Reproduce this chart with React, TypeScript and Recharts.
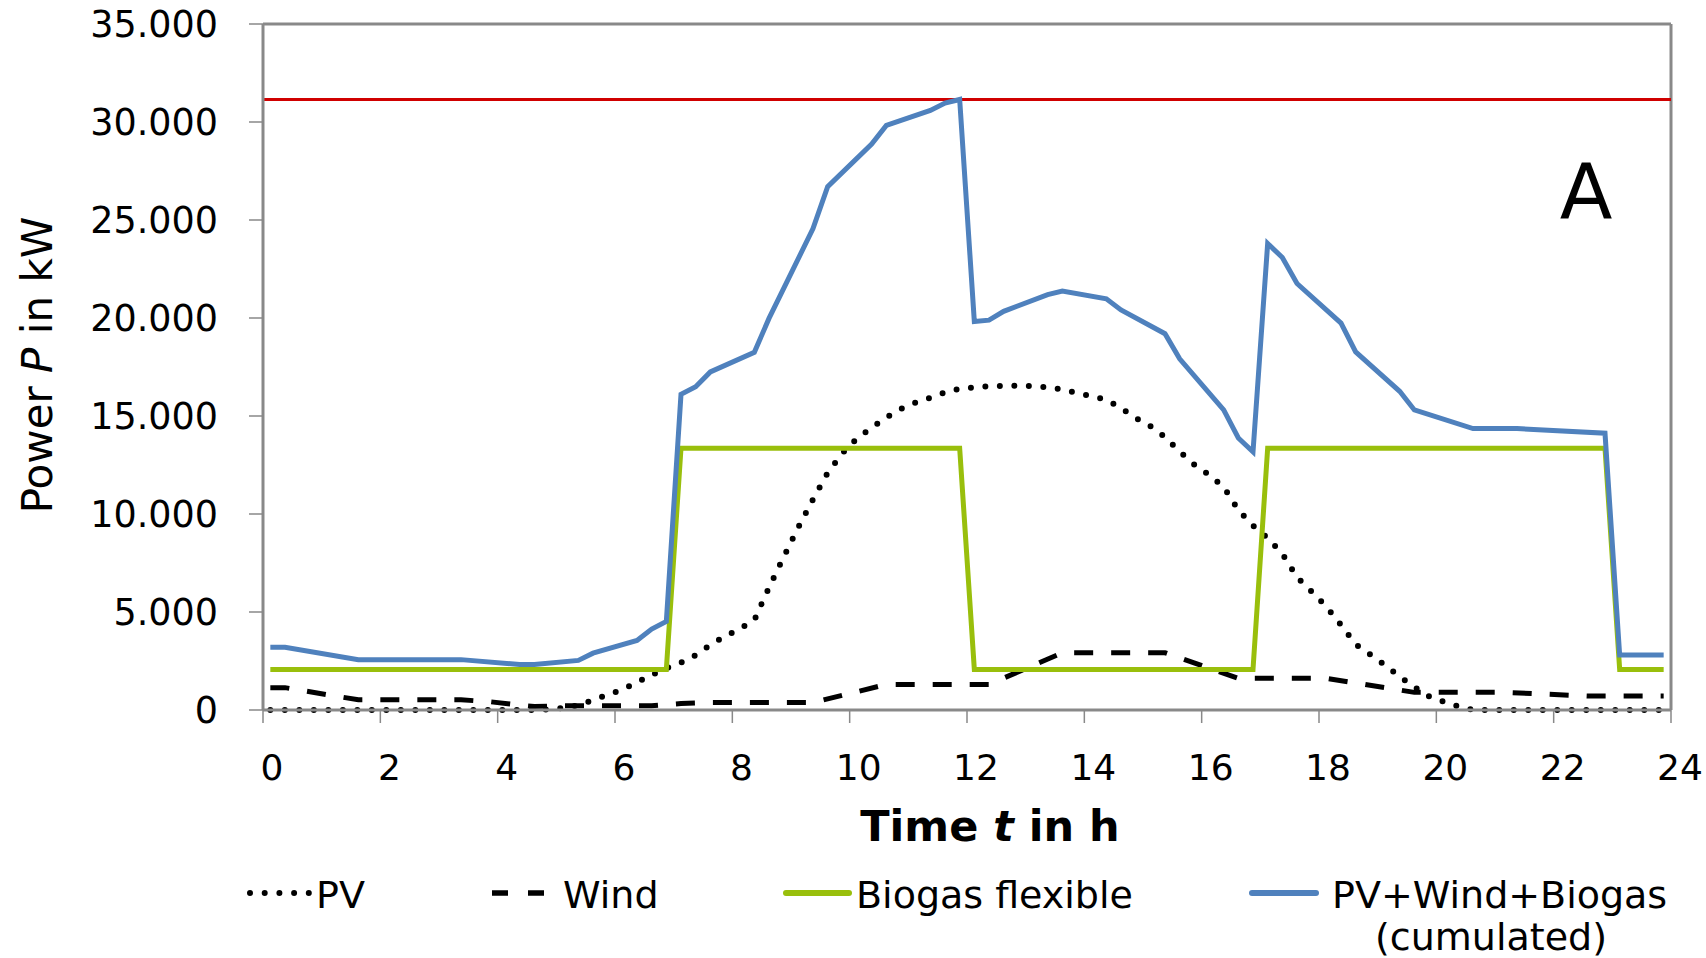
import { LineChart, Line, XAxis, YAxis, ReferenceLine, Legend } from 'recharts'

const FONT = '"DejaVu Sans", Verdana, sans-serif'
const AXIS_GREY = '#898989'

const pvHours = [
  0.125, 4.625, 4.875, 5.125, 5.375, 5.625, 5.875, 6.125, 6.375, 6.625, 6.875, 7.125, 7.375,
  7.625, 7.875, 8.125, 8.375, 8.625, 8.875, 9.125, 9.375, 9.625, 9.875, 10.125, 10.375, 10.625,
  10.875, 11.125, 11.375, 11.625, 11.875, 12.125, 12.375, 12.625, 12.875, 13.125, 13.375, 13.625,
  13.875, 14.125, 14.375, 14.625, 14.875, 15.125, 15.375, 15.625, 15.875, 16.125, 16.375, 16.625,
  16.875, 17.125, 17.375, 17.625, 17.875, 18.125, 18.375, 18.625, 18.875, 19.125, 19.375, 19.625,
  19.875, 20.125, 20.375, 20.625, 23.875,
]
const pvKw = [
  0, 0, 40, 110, 230, 515, 770, 1040, 1410, 1790, 2130, 2420, 2800,
  3320, 3760, 4140, 4580, 6250, 7800, 9320, 10750, 12100, 13100, 13850, 14400, 14930,
  15370, 15690, 15930, 16200, 16390, 16460, 16520, 16540, 16540, 16520, 16470, 16350,
  16180, 16010, 15830, 15400, 14900, 14480, 13930, 13180, 12520, 12000, 11380, 10200,
  9400, 8780, 7970, 6770, 6040, 5270, 4340, 3350, 2830, 2290, 1710, 1170,
  700, 420, 180, 0, 0,
]

const windHours = [
  0.125, 0.375, 1.625, 3.375, 3.875, 4.375, 4.625, 5.125, 6.625, 7.125, 7.625, 9.375, 10.625,
  12.375, 13.625, 15.375, 16.625, 18.125, 19.625, 21.125, 22.625, 23.875,
]
const windKw = [
  1140, 1140, 520, 520, 420, 250, 180, 220, 220, 330, 380, 380, 1305,
  1305, 2920, 2920, 1614, 1614, 900, 900, 712, 712,
]

const biogasHours = [0.125, 6.875, 7.125, 11.875, 12.125, 16.875, 17.125, 22.875, 23.125, 23.875]
const biogasKw = [2070, 2070, 13360, 13360, 2070, 2070, 13360, 13360, 2070, 2070]

const totalHours = [
  0.125, 0.375, 1.625, 3.375, 4.375, 4.625, 5.375, 5.625, 6.375, 6.625, 6.875, 7.125, 7.375,
  7.625, 8.375, 8.625, 9.375, 9.625, 10.375, 10.625, 11.375, 11.625, 11.875, 12.125, 12.375,
  12.625, 13.375, 13.625, 14.375, 14.625, 15.375, 15.625, 16.375, 16.625, 16.875, 17.125,
  17.375, 17.625, 18.375, 18.625, 19.375, 19.625, 20.625, 21.375, 22.875, 23.125, 23.875,
]
const totalKw = [
  3200, 3200, 2570, 2570, 2320, 2320, 2530, 2900, 3550, 4130, 4520, 16110, 16490,
  17250, 18250, 19980, 24560, 26700, 28880, 29830, 30590, 30970, 31150, 19820, 19890,
  20340, 21190, 21380, 20980, 20410, 19200, 17920, 15310, 13880, 13170, 23800,
  23090, 21760, 19740, 18270, 16260, 15310, 14360, 14360, 14120, 2800, 2800,
]

const gridLimitKw = 31150
const timeTicks = [0, 2, 4, 6, 8, 10, 12, 14, 16, 18, 20, 22, 24]
const powerTicks = [0, 5000, 10000, 15000, 20000, 25000, 30000, 35000]

const toSeries = (hours: number[], kw: number[]) => hours.map((t, i) => ({ t, kw: kw[i] }))

// German style thousands: 35000 -> 35.000
const formatKw = (v: number) => String(v).replace(/\B(?=(\d{3})+(?!\d))/g, '.')

const TimeTick = ({ x, y, payload }: any) => (
  <text x={x + 9} y={y} dy={27} textAnchor="middle" fontSize={36} fontFamily={FONT} fill="#000">
    {payload.value}
  </text>
)

const PowerTick = ({ x, y, payload }: any) => (
  <text x={x} y={y} dy={13} textAnchor="end" fontSize={36.5} fontFamily={FONT} fill="#000">
    {formatKw(payload.value)}
  </text>
)

const TimeTitle = ({ viewBox }: any) => (
  <text
    x={viewBox.x + viewBox.width / 2 + 23}
    y={viewBox.y + 131}
    textAnchor="middle"
    fontSize={43}
    fontWeight="bold"
    fontFamily={FONT}
    fill="#000"
  >
    Time <tspan fontStyle="italic">t</tspan> in h
  </text>
)

const PowerTitle = ({ viewBox }: any) => {
  const cx = 52
  const cy = viewBox.y + viewBox.height / 2 - 2
  return (
    <text
      x={cx}
      y={cy}
      transform={`rotate(-90 ${cx} ${cy})`}
      textAnchor="middle"
      fontSize={42}
      fontFamily={FONT}
      fill="#000"
    >
      Power <tspan fontStyle="italic">P</tspan> in kW
    </text>
  )
}

const ChartLegend = () => (
  <svg width={1706} height={100} style={{ display: 'block' }}>
    <g fontFamily={FONT} fontSize={38} fill="#000">
      <line x1={250} x2={309} y1={35} y2={35} stroke="#000" strokeWidth={6} strokeDasharray="0 14.7" strokeLinecap="round" />
      <text x={316} y={50}>PV</text>
      <line x1={492} x2={548} y1={35} y2={35} stroke="#000" strokeWidth={5.5} strokeDasharray="16 20" />
      <text x={563} y={50}>Wind</text>
      <line x1={786} x2={849} y1={35} y2={35} stroke="#99bf0c" strokeWidth={6} strokeLinecap="round" />
      <text x={856} y={50}>Biogas flexible</text>
      <line x1={1252} x2={1316} y1={35} y2={35} stroke="#4f81bd" strokeWidth={6} strokeLinecap="round" />
      <text x={1332} y={50}>PV+Wind+Biogas</text>
      <text x={1491} y={92} textAnchor="middle">(cumulated)</text>
    </g>
  </svg>
)

export default function App() {
  return (
    <div style={{ position: 'absolute', left: 0, top: 0, width: 1706, height: 958, background: '#fff' }}>
      <LineChart width={1706} height={958} margin={{ top: 24, right: 35, bottom: 0, left: 0 }}>
        <XAxis
          type="number"
          dataKey="t"
          domain={[0, 24]}
          ticks={timeTicks}
          interval={0}
          height={148}
          tick={<TimeTick />}
          tickSize={13}
          tickMargin={30}
          axisLine={{ stroke: AXIS_GREY, strokeWidth: 3 }}
          tickLine={{ stroke: AXIS_GREY, strokeWidth: 1.5 }}
          label={<TimeTitle />}
        />
        <YAxis
          type="number"
          domain={[0, 35000]}
          ticks={powerTicks}
          interval={0}
          width={263}
          tick={<PowerTick />}
          tickSize={14}
          tickMargin={31}
          axisLine={{ stroke: AXIS_GREY, strokeWidth: 3 }}
          tickLine={{ stroke: AXIS_GREY, strokeWidth: 1.5 }}
          label={<PowerTitle />}
        />
        <ReferenceLine y={35000} stroke={AXIS_GREY} strokeWidth={3} />
        <ReferenceLine x={24} stroke={AXIS_GREY} strokeWidth={3} />
        <ReferenceLine y={gridLimitKw} stroke="#d00000" strokeWidth={3} />
        <Line
          data={toSeries(pvHours, pvKw)}
          dataKey="kw"
          name="PV"
          type="linear"
          stroke="#000"
          strokeWidth={6}
          strokeDasharray="0 14.5"
          strokeLinecap="round"
          dot={false}
          activeDot={false}
          isAnimationActive={false}
        />
        <Line
          data={toSeries(windHours, windKw)}
          dataKey="kw"
          name="Wind"
          type="linear"
          stroke="#000"
          strokeWidth={5}
          strokeDasharray="19 18"
          dot={false}
          activeDot={false}
          isAnimationActive={false}
        />
        <Line
          data={toSeries(biogasHours, biogasKw)}
          dataKey="kw"
          name="Biogas flexible"
          type="linear"
          stroke="#99bf0c"
          strokeWidth={5}
          dot={false}
          activeDot={false}
          isAnimationActive={false}
        />
        <Line
          data={toSeries(totalHours, totalKw)}
          dataKey="kw"
          name="PV+Wind+Biogas (cumulated)"
          type="linear"
          stroke="#4f81bd"
          strokeWidth={5}
          dot={false}
          activeDot={false}
          isAnimationActive={false}
        />
        <Legend
          verticalAlign="bottom"
          content={() => <ChartLegend />}
          wrapperStyle={{ left: 0, bottom: 0, width: 1706, height: 100 }}
        />
      </LineChart>
      <svg width={1706} height={958} style={{ position: 'absolute', left: 0, top: 0, pointerEvents: 'none' }}>
        <text x={1586} y={218} textAnchor="middle" fontSize={77} fontFamily={FONT} fill="#000">
          A
        </text>
      </svg>
    </div>
  )
}
